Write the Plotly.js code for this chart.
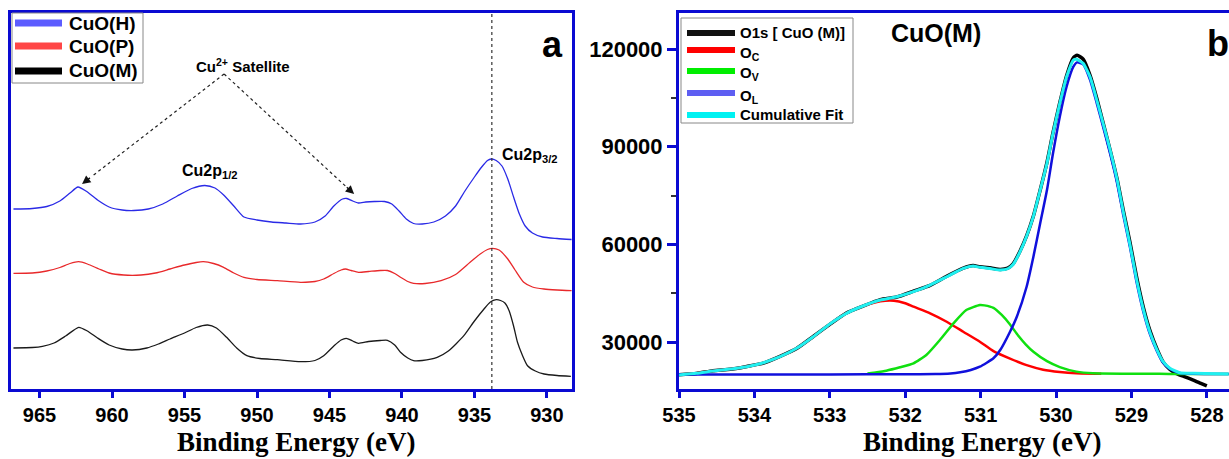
<!DOCTYPE html>
<html><head><meta charset="utf-8">
<script src="https://cdn.plot.ly/plotly-3.0.1.min.js"></script>
<style>html,body{margin:0;padding:0;background:#fff;overflow:hidden}</style>
</head><body><div id="chart" style="width:1229px;height:459px"></div>
<script>
// ---------- Panel a : Cu 2p spectra (arbitrary stacked intensity) ----------
const energyH = [966.8,965.5,964.5,963.6,962.9,962.35,961.8,961.0,960.2,959.3,958.5,957.5,956.5,955.5,954.5,953.6,952.9,952.3,951.6,950.9,950.0,949.0,948.0,947.0,946.0,945.3,944.7,944.1,943.8,943.4,943.0,942.5,941.9,941.2,940.7,940.2,939.7,939.2,938.6,937.8,937.0,936.3,935.7,935.0,934.5,934.1,933.85,933.5,933.1,932.7,932.3,931.9,931.5,931.0,930.3,929.3,928.3];
const intensityH = [180,180.5,182.5,188,196,202,198,189,182,179,178.5,180,185,193,200.5,203.5,201,194,183,172,169,167,166,165,167,173,183,190,190.5,188,186,187,187.5,187.5,185,178,170,165.5,165,167,173,183,197,212,222,228.5,230,228.5,223,210,192,175,163,156,152,150.5,149.5];

const energyP = [966.8,965.5,964.5,963.6,962.9,962.3,961.7,960.9,960.2,959.2,958.0,957.0,956.0,955.0,954.2,953.7,953.0,952.3,951.6,950.9,950.0,948.6,947.0,946.0,945.4,944.7,944.2,943.9,943.5,943.0,942.3,941.5,941.0,940.5,940.1,939.6,939.2,938.4,937.3,936.3,935.3,934.6,934.1,933.76,933.3,932.7,932.2,931.6,931.0,930.2,929.3,928.3];
const intensityP = [115.7,116,118,121.5,125.5,127.3,125,120,116,114,114,116,120,124,126.5,127.3,125.5,121.7,116,111.7,109.5,108.3,106.7,107.5,110,115.5,119,120,118.5,116.7,117.5,118.5,118.5,115.5,111.7,107.5,105.7,105.5,108.3,114.5,126.7,135,139.5,140.7,139,130,119,106.7,102,100,99,98.3];

const energyM = [966.8,965.5,964.8,964.0,963.2,962.3,961.7,961.0,960.2,959.3,958.6,957.6,956.8,956.0,955.0,954.2,953.4,952.8,952.1,951.4,950.7,949.8,948.6,947.0,946.0,945.4,944.7,944.2,943.84,943.4,943.0,942.3,941.5,941.0,940.5,940.1,939.6,939.2,938.6,937.57,936.8,935.73,935.0,934.34,933.9,933.5,933.2,932.9,932.6,932.3,932.03,931.7,931.34,930.8,930.2,929.3,928.35];
const intensityM = [41,41.5,42.7,46,53,61.7,58,51,44,40,39,41,45,50,56,61.5,64,61,51.7,41,33.3,30.5,29.3,27.3,28.5,33.3,43,49,50.7,48,45.7,47.5,48.5,48.7,44,36.7,31,28.3,28.5,31.7,38,53.3,68,80,87,89.3,88.5,86,78,63,46.7,34,23.3,18,15,13.5,12.7];

const tickValsA = [965,960,955,950,945,940,935,930];
const peakLine32 = 933.8;

// ---------- Panel b : O 1s spectrum of CuO(M) with fitted components ----------
const energyO1s = [535.0,534.77,534.55,534.32,534.10,533.88,533.66,533.44,533.22,533.00,532.78,532.56,532.33,532.11,531.89,531.67,531.45,531.23,531.10,531.01,530.86,530.74,530.64,530.57,530.48,530.39,530.30,530.21,530.12,530.04,529.95,529.86,529.77,529.72,529.64,529.55,529.46,529.37,529.28,529.19,529.11,529.02,528.93,528.84,528.75,528.66,528.58,528.49,528.40,528.29,528.18,528.08,528.0];
const intensityO1s = [19950,20300,21200,21600,22500,23500,25600,28000,31700,35400,38900,41000,43000,43800,45600,47400,50200,52700,53500,53100,52700,52300,52700,54000,57800,62600,68700,76700,85200,94300,103500,111800,117300,118100,116900,112000,104900,96800,88700,80000,70700,60700,49800,40500,33200,27800,23900,21600,20300,19300,18300,17300,16500];

const energyOC = [535.0,534.77,534.55,534.32,534.10,533.88,533.66,533.44,533.22,533.00,532.78,532.56,532.33,532.15,532.0,531.89,531.67,531.45,531.23,531.01,530.83,530.61,530.39,530.17,529.95,529.73,529.4];
const intensityOC = [19950,20390,21090,21710,22410,23640,25490,28070,31630,35530,38810,41000,42500,42700,41900,40840,38810,36230,33160,30090,27200,24900,22900,21500,20800,20400,20250];

const energyOV = [532.5,532.42,532.25,532.07,531.89,531.72,531.54,531.36,531.19,531.01,530.95,530.83,530.72,530.61,530.50,530.40,530.30,530.12,529.95,529.73,529.51,528.5,527.71];
const intensityOV = [20300,20570,21190,22230,23460,26000,30610,35740,39830,41360,41250,40500,38300,35400,31900,29200,27000,24100,22300,20900,20390,20200,20170];

const energyOL = [535.0,533.0,532.0,531.6,531.4,531.27,531.13,531.01,530.83,530.74,530.61,530.52,530.39,530.30,530.21,530.12,530.04,529.95,529.86,529.77,529.72,529.64,529.55,529.46,529.37,529.28,529.19,529.11,529.02,528.93,528.84,528.75,528.66,528.58,528.49,528.36,528.18,527.71];
const intensityOL = [20050,20050,20080,20150,20350,20700,21400,22410,24990,27540,33160,37770,46980,56200,66450,76680,87950,99190,108400,114550,115900,115300,110600,103400,95600,87600,78800,69200,59200,48200,39100,32100,27100,23600,21700,20450,20250,20170];

const energyFit = [535.0,534.77,534.55,534.32,534.10,533.88,533.66,533.44,533.22,533.00,532.78,532.56,532.33,532.11,531.89,531.67,531.45,531.23,531.10,531.01,530.86,530.74,530.64,530.57,530.48,530.39,530.30,530.21,530.12,530.04,529.95,529.86,529.77,529.73,529.64,529.55,529.46,529.37,529.28,529.19,529.11,529.02,528.93,528.84,528.75,528.66,528.58,528.49,528.36,528.18,527.71];
const intensityFit = [19870,20390,21090,21710,22410,23640,25490,28070,31630,35530,38810,41060,42900,43910,45450,47500,50050,52630,53340,52940,52500,52110,52500,53800,57600,62500,68600,76680,84880,94090,103300,111470,116600,116820,115590,111500,104400,96700,88800,79900,70200,60000,49040,39830,32670,27540,23950,21930,20570,20390,20170];

const tickValsBx = [535,534,533,532,531,530,529,528];

// ---------- layout helpers (pixel -> paper) ----------
const W = 1229, H = 459;
const px = x => x / W;
const py = y => 1 - y / H;

const FRAME = '#0a0ad2';
const SANS = "'Liberation Sans', Arial, sans-serif";
const SERIF = "'Liberation Serif', 'Times New Roman', serif";

const thin = (x, y, color, name) => ({x, y, name, type: 'scatter', mode: 'lines', xaxis: 'x', yaxis: 'y',
  line: {color, width: 1.3, shape: 'spline', smoothing: 0.6}, showlegend: false, hoverinfo: 'skip'});
const thick = (x, y, color, w, name) => ({x, y, name, type: 'scatter', mode: 'lines', xaxis: 'x2', yaxis: 'y2',
  line: {color, width: w, shape: 'spline', smoothing: 0.5}, showlegend: false, hoverinfo: 'skip'});

const data = [
  thin(energyH, intensityH, '#2a2ae6', 'CuO(H)'),
  thin(energyP, intensityP, '#e8292b', 'CuO(P)'),
  thin(energyM, intensityM, '#1a1a1a', 'CuO(M)'),
  thick(energyO1s, intensityO1s, '#000000', 3.5, 'O1s [ CuO (M)]'),
  thick(energyOC, intensityOC, '#ff0000', 2.5, 'O_C'),
  thick(energyOV, intensityOV, '#10e010', 2.5, 'O_V'),
  thick(energyOL, intensityOL, '#1010dc', 2.5, 'O_L'),
  thick(energyFit, intensityFit, '#1ff0f0', 3, 'Cumulative Fit')
];

const tickFont = {family: SANS, size: 20, color: '#000', weight: 'bold'};
const tickFontY = {family: SANS, size: 22, color: '#000', weight: 'bold'};
const yDom = [py(389), py(13)];

const ann = (x, y, text, size, xanchor, family, yanchor) => ({xref: 'paper', yref: 'paper', x: px(x), y: py(y), text, showarrow: false,
  xanchor: xanchor || 'center', yanchor: yanchor || 'middle', font: {family: family || SANS, size, color: '#000', weight: 'bold'}});

// arrow geometry (data coords of panel a)
const apex = {x: 952.27, y: 315};
const tipL = {x: 962.07, y: 205}, tailL = {x: 961.42, y: 212.3};
const tipR = {x: 943.3, y: 195}, tailR = {x: 943.91, y: 203.1};

const shapes = [
  {type: 'line', xref: 'x', yref: 'y domain', x0: peakLine32, x1: peakLine32, y0: 0, y1: 1, line: {color: '#333', width: 1.2, dash: 'dot'}},
  {type: 'line', xref: 'x', yref: 'y', x0: apex.x, y0: apex.y, x1: tailL.x, y1: tailL.y, line: {color: '#222', width: 1.2, dash: 'dot'}},
  {type: 'line', xref: 'x', yref: 'y', x0: apex.x, y0: apex.y, x1: tailR.x, y1: tailR.y, line: {color: '#222', width: 1.2, dash: 'dot'}},
  // legend a
  {type: 'rect', xref: 'paper', yref: 'paper', x0: px(12), x1: px(143), y0: py(83), y1: py(13), line: {color: '#888', width: 1}, fillcolor: '#fff', layer: 'above'},
  {type: 'line', xref: 'paper', yref: 'paper', x0: px(15), x1: px(62), y0: py(23), y1: py(23), line: {color: '#5c5cff', width: 7}},
  {type: 'line', xref: 'paper', yref: 'paper', x0: px(15), x1: px(62), y0: py(46), y1: py(46), line: {color: '#ff4646', width: 7}},
  {type: 'line', xref: 'paper', yref: 'paper', x0: px(15), x1: px(62), y0: py(71), y1: py(71), line: {color: '#000', width: 7}},
  // legend b
  {type: 'rect', xref: 'paper', yref: 'paper', x0: px(681), x1: px(853), y0: py(123), y1: py(18), line: {color: '#888', width: 1}, fillcolor: '#fff', layer: 'above'},
  {type: 'line', xref: 'paper', yref: 'paper', x0: px(687), x1: px(735), y0: py(33), y1: py(33), line: {color: '#111', width: 6}},
  {type: 'line', xref: 'paper', yref: 'paper', x0: px(687), x1: px(735), y0: py(50), y1: py(50), line: {color: '#ff0000', width: 6}},
  {type: 'line', xref: 'paper', yref: 'paper', x0: px(687), x1: px(735), y0: py(71), y1: py(71), line: {color: '#00ee00', width: 6}},
  {type: 'line', xref: 'paper', yref: 'paper', x0: px(687), x1: px(735), y0: py(93), y1: py(93), line: {color: '#5e5ef2', width: 6}},
  {type: 'line', xref: 'paper', yref: 'paper', x0: px(687), x1: px(735), y0: py(115), y1: py(115), line: {color: '#00f2f2', width: 6}}
];

const annotations = [
  ann(552, 45, 'a', 36),
  ann(1218, 43, 'b', 36),
  ann(936, 33, 'CuO(M)', 25),
  ann(243, 66, 'Cu<sup>2+</sup> Satellite', 15),
  ann(210, 171, 'Cu2p<sub>1/2</sub>', 16),
  ann(530, 155, 'Cu2p<sub>3/2</sub>', 16),
  ann(67, 23, 'CuO(H)', 19, 'left'),
  ann(67, 46, 'CuO(P)', 19, 'left'),
  ann(67, 71, 'CuO(M)', 19, 'left'),
  ann(738, 33, 'O1s [ CuO (M)]', 15, 'left'),
  ann(738, 53, 'O<sub>C</sub>', 15, 'left'),
  ann(738, 74, 'O<sub>V</sub>', 15, 'left'),
  ann(738, 96, 'O<sub>L</sub>', 15, 'left'),
  ann(738, 115, 'Cumulative Fit', 15, 'left'),
  // axis titles
  ann(296, 459, 'Binding Energy (eV)', 27, 'center', SERIF, 'bottom'),
  ann(982, 459, 'Binding Energy (eV)', 27, 'center', SERIF, 'bottom'),
  {xref: 'x', yref: 'y', x: tipL.x, y: tipL.y, ax: tailL.x, ay: tailL.y, axref: 'x', ayref: 'y', text: '', showarrow: true, arrowhead: 2, arrowsize: 1.3, arrowwidth: 1.3, arrowcolor: '#111'},
  {xref: 'x', yref: 'y', x: tipR.x, y: tipR.y, ax: tailR.x, ay: tailR.y, axref: 'x', ayref: 'y', text: '', showarrow: true, arrowhead: 2, arrowsize: 1.3, arrowwidth: 1.3, arrowcolor: '#111'}
];

const layout = {
  width: W, height: H,
  margin: {l: 0, r: 0, t: 0, b: 0},
  paper_bgcolor: '#fff', plot_bgcolor: '#fff',
  showlegend: false,
  xaxis: {domain: [px(11), px(572)], range: [966.97, 928.27], anchor: 'y',
    tickvals: tickValsA, ticks: 'outside', ticklen: 6, tickwidth: 3, tickcolor: FRAME,
    showline: true, mirror: true, linecolor: FRAME, linewidth: 3, showgrid: false, zeroline: false,
    tickfont: tickFont},
  yaxis: {domain: yDom, range: [0, 376], anchor: 'x', showticklabels: false, ticks: '',
    showline: true, mirror: true, linecolor: FRAME, linewidth: 3, showgrid: false, zeroline: false},
  xaxis2: {domain: [px(679), 1], range: [535, 527.706], anchor: 'y2',
    tickvals: tickValsBx, ticks: 'outside', ticklen: 6, tickwidth: 3, tickcolor: FRAME,
    showline: true, mirror: true, linecolor: FRAME, linewidth: 3, showgrid: false, zeroline: false,
    tickfont: tickFont},
  yaxis2: {domain: yDom, range: [15563, 131058], anchor: 'x2',
    tickmode: 'linear', tick0: 0, dtick: 30000, tickformat: 'd', ticks: 'outside', ticklen: 9, tickwidth: 3, tickcolor: FRAME,
    minor: {tickmode: 'linear', tick0: 0, dtick: 15000, ticks: 'outside', ticklen: 5, tickwidth: 2, tickcolor: '#333'},
    showline: true, mirror: false, linecolor: FRAME, linewidth: 3, showgrid: false, zeroline: false,
    tickfont: tickFontY},
  shapes, annotations
};

Plotly.newPlot('chart', data, layout, {staticPlot: true, displayModeBar: false});
</script>
</body></html>
